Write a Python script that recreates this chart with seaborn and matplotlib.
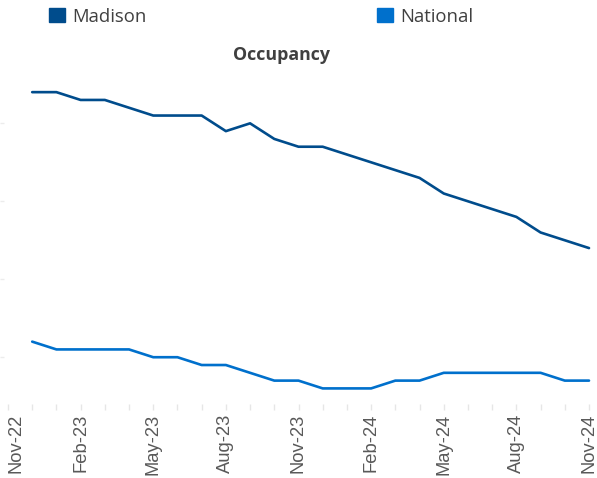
import numpy as np
import pandas as pd
import matplotlib
matplotlib.use("Agg")
import matplotlib.pyplot as plt
from matplotlib.patches import Patch
import seaborn as sns

sns.set_style("white")
plt.rcParams["font.family"] = ["Open Sans", "DejaVu Sans"]

# months on the axis, Nov-22 .. Nov-24
months = ["Nov-22", "Dec-22", "Jan-23", "Feb-23", "Mar-23", "Apr-23", "May-23",
          "Jun-23", "Jul-23", "Aug-23", "Sep-23", "Oct-23", "Nov-23", "Dec-23",
          "Jan-24", "Feb-24", "Mar-24", "Apr-24", "May-24", "Jun-24", "Jul-24",
          "Aug-24", "Sep-24", "Oct-24", "Nov-24"]
tick_labels = months[::3]

# occupancy (%) from Dec-22 to Nov-24
madison = [94.0, 94.0, 93.9, 93.9, 93.8, 93.7, 93.7, 93.7, 93.5, 93.6, 93.4, 93.3,
           93.3, 93.2, 93.1, 93.0, 92.9, 92.7, 92.6, 92.5, 92.4, 92.2, 92.1, 92.0]
national = [90.8, 90.7, 90.7, 90.7, 90.7, 90.6, 90.6, 90.5, 90.5, 90.4, 90.3, 90.3,
            90.2, 90.2, 90.2, 90.3, 90.3, 90.4, 90.4, 90.4, 90.4, 90.4, 90.3, 90.3]

c_mad = "#004C8C"
c_nat = "#0070CC"

idx = list(range(1, len(months)))
df = pd.DataFrame({
    "idx": idx * 2,
    "value": madison + national,
    "series": ["Madison"] * len(madison) + ["National"] * len(national),
})

fig = plt.figure(figsize=(5.97, 4.78), dpi=100)
ax = fig.add_axes([0, 1 - 404 / 478, 1, 329 / 478])

sns.lineplot(data=df, x="idx", y="value", hue="series",
             palette={"Madison": c_mad, "National": c_nat},
             linewidth=1.9, legend=False, ax=ax)

ax.set_xlim(-0.33, 24.33)
ax.set_ylim(90.0, 94.22)

ax.set_xticks(range(0, len(months), 3))
ax.set_xticks(range(len(months)), minor=True)
ax.set_xticklabels(tick_labels, rotation=90, fontsize=13.2, color="#595959",
                   family=["Liberation Sans", "DejaVu Sans"])
ax.get_xticklabels()[0].set_horizontalalignment("left")
ax.tick_params(axis="x", which="both", length=4, width=1, color="#e6e6e6", pad=3,
               bottom=True)
ax.set_yticks([90.6, 91.6, 92.6, 93.6])
ax.set_yticklabels([])
ax.tick_params(axis="y", length=3, width=1, color="#ececec", direction="in", left=True)
ax.set_xlabel("")
ax.set_ylabel("")
for s in ax.spines.values():
    s.set_visible(False)
ax.grid(False)

fig.text(281 / 597, 1 - 55 / 478, "Occupancy", ha="center", va="center",
         fontsize=12.8, fontweight="bold", color="#404040")

handles = [Patch(color=c_mad, label="Madison"), Patch(color=c_nat, label="National")]
fig.legend(handles=handles, loc="center left", bbox_to_anchor=(49 / 597, 1 - 16.5 / 478),
           ncol=2, frameon=False, fontsize=13.3, handlelength=0.85, handleheight=0.85,
           handletextpad=0.4, columnspacing=12.5, borderpad=0, borderaxespad=0,
           labelcolor="#404040")

fig.savefig("out.png", dpi=100)
